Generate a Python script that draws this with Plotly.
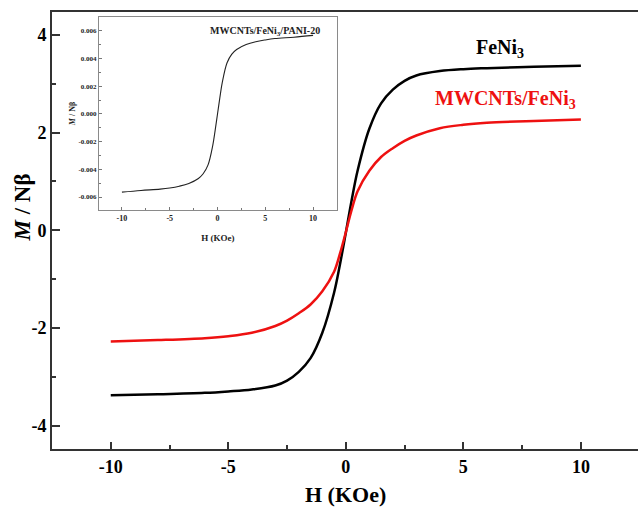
import plotly.graph_objects as go

# ---- data ----
H = [-10, -8, -6, -5, -4, -3, -2.5, -2, -1.5, -1, -0.5, -0.25, 0,
     0.25, 0.5, 1, 1.5, 2, 2.5, 3, 4, 5, 6, 8, 10]
M_FeNi3 = [-3.38, -3.36, -3.33, -3.30, -3.26, -3.18, -3.08, -2.90, -2.62, -2.10, -1.28, -0.70, -0.05,
           0.62, 1.22, 2.08, 2.60, 2.88, 3.06, 3.17, 3.26, 3.30, 3.32, 3.35, 3.37]
M_MWCNT = [-2.28, -2.25, -2.21, -2.17, -2.10, -1.96, -1.85, -1.70, -1.52, -1.25, -0.85, -0.48, -0.04,
           0.42, 0.80, 1.22, 1.50, 1.68, 1.83, 1.94, 2.09, 2.16, 2.20, 2.24, 2.27]

H_inset = [-10, -8, -6, -5, -4, -3, -2, -1.5, -1, -0.5, -0.25, 0,
           0.25, 0.5, 1, 1.5, 2, 3, 4, 5, 6, 8, 10]
M_inset = [-0.00565, -0.00553, -0.00543, -0.00535, -0.00522, -0.00502, -0.00466, -0.00432, -0.00370, -0.00228, -0.00120, 0.0,
           0.00120, 0.00228, 0.00370, 0.00432, 0.00466, 0.00502, 0.00522, 0.00535, 0.00545, 0.00555, 0.00568]

x_ticks = [-10, -5, 0, 5, 10]
x_ticktext = ["-10", "-5", "0", "5", "10"]
y_ticks = [-4, -2, 0, 2, 4]
y_ticktext = ["-4", "-2", "0", "2", "4"]
yi_ticks = [-0.006, -0.004, -0.002, 0.0, 0.002, 0.004, 0.006]
yi_ticktext = ["-0.006", "-0.004", "-0.002", "0.000", "0.002", "0.004", "0.006"]

SERIF = "Liberation Serif"
AX = "#333333"

fig = go.Figure()
fig.add_trace(go.Scatter(x=H, y=M_FeNi3, mode="lines", line=dict(color="black", width=2.5, shape="spline"),
                         xaxis="x", yaxis="y", showlegend=False))
fig.add_trace(go.Scatter(x=H, y=M_MWCNT, mode="lines", line=dict(color="#ee1111", width=2.5, shape="spline"),
                         xaxis="x", yaxis="y", showlegend=False))
fig.add_trace(go.Scatter(x=H_inset, y=M_inset, mode="lines", line=dict(color="#222222", width=1.1, shape="spline"),
                         xaxis="x2", yaxis="y2", showlegend=False))

fig.update_layout(
    width=638, height=509,
    margin=dict(l=52, r=0, t=12, b=60),
    paper_bgcolor="white", plot_bgcolor="white",
    font=dict(family=SERIF, color="black"),
    xaxis=dict(domain=[0, 1], range=[-12.5, 12.43], tickvals=x_ticks, ticktext=x_ticktext, automargin=False,
               ticks="inside", ticklen=7, tickwidth=1.5, tickcolor=AX,
               minor=dict(dtick=2.5, ticks="inside", ticklen=4, tickwidth=1.5, tickcolor=AX),
               showline=True, linecolor=AX, linewidth=2, mirror=True, showgrid=False, zeroline=False,
               tickfont=dict(family=SERIF, size=18, weight="bold", color="black")),
    yaxis=dict(domain=[0, 1], range=[-4.48, 4.47], tickvals=y_ticks, ticktext=y_ticktext, automargin=False,
               ticks="inside", ticklen=8, tickwidth=1.5, tickcolor=AX,
               minor=dict(dtick=1, ticks="inside", ticklen=4, tickwidth=1.5, tickcolor=AX),
               showline=True, linecolor=AX, linewidth=2, mirror=False, showgrid=False, zeroline=False,
               tickfont=dict(family=SERIF, size=18, weight="bold", color="black")),
    xaxis2=dict(domain=[0.0802, 0.4863], anchor="y2", range=[-12.4, 12.5], tickvals=x_ticks, ticktext=x_ticktext,
                automargin=False,
                ticks="inside", ticklen=3, tickwidth=1, tickcolor="#777777",
                minor=dict(dtick=2.5, ticks="inside", ticklen=2, tickwidth=1, tickcolor="#777777"),
                showline=True, linecolor="#8a8a8a", linewidth=1.2, mirror=True, showgrid=False, zeroline=False,
                tickfont=dict(family=SERIF, size=8, weight="bold", color="#222222"),
                title=dict(text="H (KOe)", font=dict(family=SERIF, size=9, weight="bold", color="#222222"), standoff=12)),
    yaxis2=dict(domain=[0.5469, 0.9886], anchor="x2", range=[-0.00694, 0.00701], tickvals=yi_ticks, ticktext=yi_ticktext,
                automargin=False,
                ticks="inside", ticklen=3, tickwidth=1, tickcolor="#777777",
                minor=dict(dtick=0.001, ticks="inside", ticklen=2, tickwidth=1, tickcolor="#777777"),
                showline=True, linecolor="#8a8a8a", linewidth=1.2, mirror=True, showgrid=False, zeroline=False,
                tickfont=dict(family=SERIF, size=7, weight="bold", color="#222222"),
                title=dict(text="<i>M</i> / Nβ", font=dict(family=SERIF, size=8, weight="bold", color="#222222"), standoff=1)),
    annotations=[
        dict(text="<b>H (KOe)</b>", x=0.5, y=0, xref="paper", yref="paper", xanchor="center", yanchor="middle",
             yshift=-45, xshift=0, showarrow=False, font=dict(family=SERIF, size=22, color="black")),
        dict(text="<b><i>M</i> / Nβ</b>", x=0, y=0.5, xref="paper", yref="paper", xanchor="center", yanchor="middle",
             xshift=-30, yshift=23, textangle=-90, showarrow=False, font=dict(family=SERIF, size=23, color="black")),
        dict(text="<b>FeNi<sub>3</sub></b>", x=10, y=3.6, xref="x", yref="y", xanchor="right", yanchor="bottom",
             showarrow=False, font=dict(family=SERIF, size=20, color="black"), xshift=-55, yshift=-9),
        dict(text="<b>MWCNTs/FeNi<sub>3</sub></b>", x=10, y=2.45, xref="x", yref="y", xanchor="right", yanchor="bottom",
             showarrow=False, font=dict(family=SERIF, size=20, color="#ee1111"), xshift=-3, yshift=-3),
        dict(text="<b>MWCNTs/FeNi<sub>3</sub>/PANI-20</b>", x=0.46, y=0.975, xref="paper", yref="paper",
             xanchor="right", yanchor="top", showarrow=False, font=dict(family=SERIF, size=10, color="#222222")),
    ],
)

fig.write_html("out.html", config={"displayModeBar": False},
               post_script="document.body.style.margin='0';document.body.style.overflow='hidden';")
